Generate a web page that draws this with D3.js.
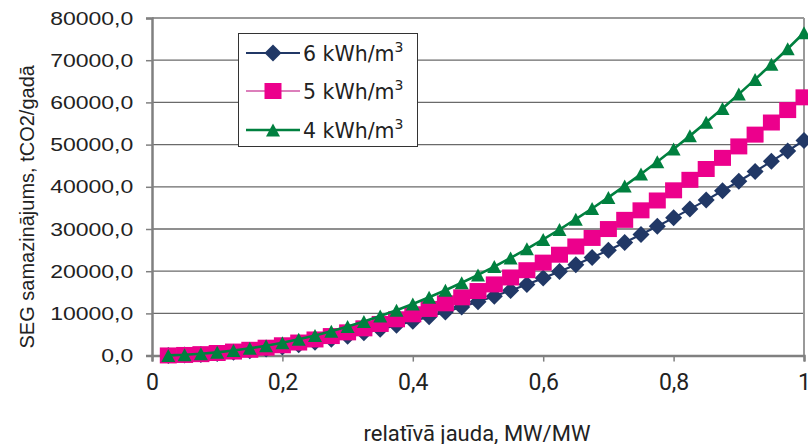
<!DOCTYPE html>
<html><head><meta charset="utf-8">
<script src="https://cdn.jsdelivr.net/npm/d3@7"></script>
<style>body{margin:0;background:#fff}svg{display:block}</style></head>
<body>
<svg id="c" width="808" height="444"></svg>
<script>
const xValues = [0.025,0.05,0.075,0.1,0.125,0.15,0.175,0.2,0.225,0.25,0.275,0.3,0.325,0.35,0.375,0.4,0.425,0.45,0.475,0.5,0.525,0.55,0.575,0.6,0.625,0.65,0.675,0.7,0.725,0.75,0.775,0.8,0.825,0.85,0.875,0.9,0.925,0.95,0.975,1.0];
const series6 = [32,128,287,510,797,1148,1562,2040,2582,3188,3857,4590,5387,6248,7172,8160,9212,10328,11507,12750,14057,15428,16862,18360,19922,21548,23237,24990,26807,28688,30632,32640,34712,36848,39047,41310,43637,46028,48482,51000];
const series5 = [38,153,344,612,956,1377,1874,2448,3098,3825,4628,5508,6464,7497,8606,9792,11054,12393,13808,15300,16868,18513,20234,22032,23906,25857,27884,29988,32168,34425,36758,39168,41654,44217,46856,49572,52364,55233,58178,61200];
const series4 = [48,191,430,765,1195,1721,2343,3060,3873,4781,5785,6885,8080,9371,10758,12240,13818,15491,17260,19125,21085,23141,25293,27540,29883,32321,34855,37485,40210,43031,45948,48960,52068,55271,58570,61965,65455,69041,72723,76500];
const seriesNames = ["6 kWh/m", "5 kWh/m", "4 kWh/m"];
const yTicks = [0,10000,20000,30000,40000,50000,60000,70000,80000];
const xTicks = [0,0.2,0.4,0.6,0.8,1];
const yTitle = "SEG samazinājums, tCO2/gadā";
const xTitle = "relatīvā jauda, MW/MW";

const svg = d3.select("#c");
const L = 152, R = 804, T = 18, B = 355.6;
const x = d3.scaleLinear().domain([0,1]).range([L,R]);
const y = d3.scaleLinear().domain([0,80000]).range([B,T]);

// gridlines
svg.append("g").selectAll("line").data(yTicks.filter(d=>d>0 && d<80000)).join("line")
  .attr("x1",L).attr("x2",R).attr("y1",d=>y(d)).attr("y2",d=>y(d))
  .attr("stroke","#6a6a6a").attr("stroke-width",1.3);

// frame top/right
svg.append("line").attr("x1",L).attr("x2",R).attr("y1",y(80000)).attr("y2",y(80000)).attr("stroke","#999").attr("stroke-width",2);
svg.append("line").attr("x1",R).attr("x2",R).attr("y1",T).attr("y2",B).attr("stroke","#999").attr("stroke-width",2);

// axes
const yAxis = d3.axisLeft(y).tickValues(yTicks).tickSize(6).tickFormat(d=>d.toFixed(1).replace(".",","));
const gy = svg.append("g").attr("transform",`translate(${L},0)`).call(yAxis);
gy.select(".domain").attr("stroke","#808080").attr("stroke-width",2.5);
gy.selectAll(".tick line").attr("stroke","#808080").attr("stroke-width",1.5);
gy.selectAll(".tick text").attr("font-family","'Liberation Sans', Arial, sans-serif").attr("font-size",19)
  .attr("fill","#222").attr("x",-15.5).attr("transform","scale(1.21,1)");

const xAxis = d3.axisBottom(x).tickValues(xTicks).tickSize(6).tickFormat(d=>d===0?"0":d===1?"1":String(d).replace(".",","));
const gx = svg.append("g").attr("transform",`translate(0,${B})`).call(xAxis);
gx.select(".domain").attr("stroke","#808080").attr("stroke-width",2.5);
gx.selectAll(".tick line").attr("stroke","#808080").attr("stroke-width",1.5);
gx.selectAll(".tick text").attr("font-family","Roboto, sans-serif").attr("font-size",23)
  .attr("fill","#222").attr("y",18).attr("dy","0.71em");

// titles
svg.append("text").attr("x",(L+R)/2 - 1).attr("y",441).attr("text-anchor","middle")
  .attr("font-family","Roboto, sans-serif").attr("font-size",22).attr("fill","#222").text(xTitle);
svg.append("text").attr("transform",`translate(34,${(T+B)/2 + 20}) rotate(-90)`).attr("text-anchor","middle")
  .attr("font-family","'Liberation Sans', Arial, sans-serif").attr("font-size",20).attr("fill","#222").text(yTitle);

// series
const symbols = {
  diamond: "M0,-8.5L8.5,0L0,8.5L-8.5,0Z",
  square: "M-8.5,-8H8.5V8H-8.5Z",
  triangle: "M0,-6.5L7,6.5L-7,6.5Z"
};
const series = [
  {name: seriesNames[0], values: series6, line: "#213866", fill: "#213866", sym: symbols.diamond, lw: 2.2},
  {name: seriesNames[1], values: series5, line: "#dc7fbb", fill: "#ec008c", sym: symbols.square, lw: 2.2},
  {name: seriesNames[2], values: series4, line: "#00803f", fill: "#00803f", sym: symbols.triangle, lw: 2.6}
];
const lineGen = d3.line().x((d,i)=>x(xValues[i])).y(d=>y(d));
series.forEach(s=>{
  const g = svg.append("g");
  g.append("path").attr("d",lineGen(s.values)).attr("fill","none").attr("stroke",s.line).attr("stroke-width",s.lw);
  g.selectAll("path.m").data(s.values).join("path").attr("class","m")
    .attr("transform",(d,i)=>`translate(${x(xValues[i])},${y(d)})`)
    .attr("d",s.sym).attr("fill",s.fill);
});

// legend
const lg = svg.append("g");
lg.append("rect").attr("x",238.5).attr("y",33.5).attr("width",179).attr("height",113)
  .attr("fill","#fff").attr("stroke","#333").attr("stroke-width",1);
const rowsY = [53,91,130];
series.forEach((s,i)=>{
  const yy = rowsY[i];
  lg.append("line").attr("x1",246).attr("x2",300).attr("y1",yy).attr("y2",yy).attr("stroke",s.line).attr("stroke-width",s.lw);
  lg.append("path").attr("transform",`translate(273,${yy})`).attr("d",s.sym).attr("fill",s.fill);
  const t = lg.append("text").attr("x",303).attr("y",yy+7.5).attr("font-family","'DejaVu Sans', sans-serif")
    .attr("font-size",20.5).attr("fill","#222");
  t.append("tspan").text(s.name);
  t.append("tspan").attr("dy",-8.5).attr("font-size",14).text("3");
});
</script>
</body></html>
